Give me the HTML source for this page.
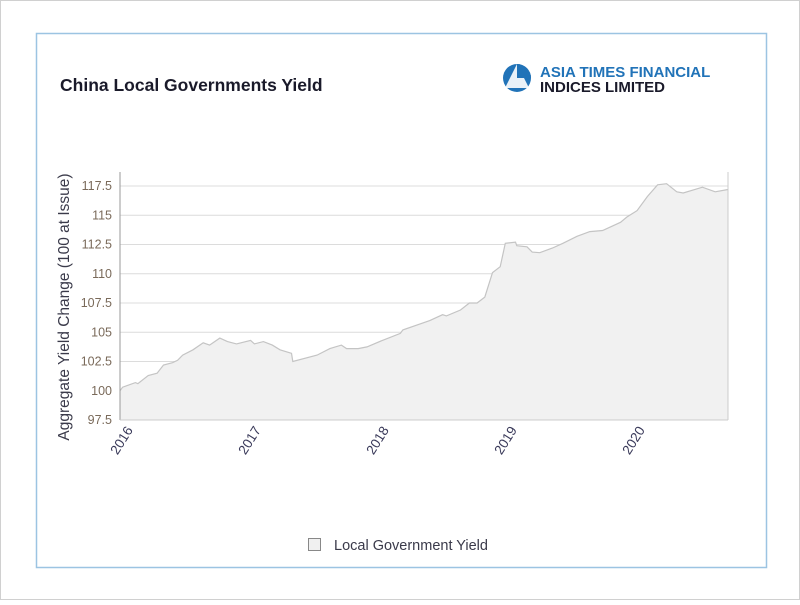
<!DOCTYPE html>
<html><head><meta charset="utf-8"><style>
body{margin:0;width:800px;height:600px;background:#fff;overflow:hidden;font-family:"Liberation Sans",sans-serif}
</style></head><body>
<svg width="800" height="600">
<rect x="0.5" y="0.5" width="799" height="599" fill="#fff" stroke="#d0d0d0"/>
<rect x="36.5" y="33.5" width="730" height="534" fill="#fff" stroke="#9cc4e2" stroke-width="1.5"/>
<text x="60" y="91" font-size="17.5" font-weight="bold" fill="#1a1a2a">China Local Governments Yield</text>
<g>
<circle cx="517" cy="78" r="14" fill="#2173b8"/>
<path d="M517 64 L505 88 L529 88 Z" fill="#fff" opacity="0.9"/>
<path d="M517 64 A14 14 0 0 1 531 78 L517 78 Z" fill="#2173b8"/>
<text x="540" y="77" font-size="15" font-weight="bold" fill="#2173b8">ASIA TIMES FINANCIAL</text>
<text x="540" y="92" font-size="15" font-weight="bold" fill="#1a1a2a">INDICES LIMITED</text>
</g>
<g id="plot"></g>
<text transform="translate(69,307) rotate(-90)" text-anchor="middle" font-size="15.5" fill="#3a3a4a">Aggregate Yield Change (100 at Issue)</text>
<rect x="308.5" y="538.5" width="12" height="12" fill="#f0f0f0" stroke="#888"/>
<text x="334" y="550" font-size="14.5" fill="#3a3a4a">Local Government Yield</text>
</svg>
<script>
const dates=[2015.95,2015.97,2016.07,2016.09,2016.10,2016.17,2016.24,2016.29,2016.36,2016.40,2016.44,2016.52,2016.60,2016.65,2016.73,2016.79,2016.86,2016.97,2017.00,2017.07,2017.14,2017.20,2017.29,2017.30,2017.49,2017.59,2017.68,2017.72,2017.81,2017.88,2018.00,2018.14,2018.16,2018.37,2018.47,2018.50,2018.61,2018.68,2018.74,2018.80,2018.86,2018.92,2018.96,2019.04,2019.05,2019.13,2019.17,2019.23,2019.33,2019.41,2019.52,2019.62,2019.72,2019.86,2019.91,2019.99,2020.07,2020.15,2020.22,2020.30,2020.35,2020.50,2020.60,2020.70];
const values=[100.0,100.3,100.7,100.6,100.7,101.3,101.5,102.2,102.4,102.6,103.05,103.5,104.1,103.9,104.5,104.2,104.0,104.3,104.0,104.2,103.9,103.5,103.2,102.5,103.05,103.6,103.9,103.6,103.6,103.75,104.3,104.9,105.2,106.0,106.5,106.4,106.9,107.5,107.5,108.0,110.1,110.6,112.6,112.7,112.4,112.3,111.85,111.8,112.2,112.6,113.2,113.6,113.7,114.4,114.85,115.4,116.6,117.6,117.7,117.0,116.9,117.4,117.0,117.2];
const yTicks=[97.5,100,102.5,105,107.5,110,112.5,115,117.5];
const yTickLabels=["97.5","100","102.5","105","107.5","110","112.5","115","117.5"];
const xTicks=[2016,2017,2018,2019,2020];
const xTickLabels=["2016","2017","2018","2019","2020"];
const NS="http://www.w3.org/2000/svg";
const L=120,R=728,T=172,B=420,t0=2015.95,t1=2020.70,v0=97.5,v1=117.5;
const yTop=186;
function sx(t){return L+(t-t0)/(t1-t0)*(R-L);}
function sy(v){return B-(v-v0)/(v1-v0)*(B-yTop);}
const g=document.getElementById('plot');
function mk(tag,attrs){const e=document.createElementNS(NS,tag);for(const k in attrs)e.setAttribute(k,attrs[k]);g.appendChild(e);return e;}
yTicks.forEach((v,i)=>{
  if(i>0){const ln=mk('line',{x1:L,x2:R,y1:sy(v),y2:sy(v),stroke:'#dcdcdc'});
  
  }
  const tx=mk('text',{x:L-8,y:sy(v)+4,'text-anchor':'end','font-size':12.5,fill:'#7a6a5a'});
  tx.textContent=yTickLabels[i];
  
  
});
let d='M'+sx(dates[0])+','+B;
dates.forEach((t,i)=>{d+=' L'+sx(t).toFixed(1)+','+sy(values[i]).toFixed(1);});
d+=' L'+sx(dates[dates.length-1])+','+B+' Z';
const area=mk('path',{d:d,fill:'#f1f1f1',stroke:'none'});


let dl='';
dates.forEach((t,i)=>{dl+=(i?' L':'M')+sx(t).toFixed(1)+','+sy(values[i]).toFixed(1);});
const line=mk('path',{d:dl,fill:'none',stroke:'#c4c4c4','stroke-width':1.2});


const ya=mk('line',{x1:L,x2:L,y1:T,y2:B,stroke:'#999'});


const xa=mk('line',{x1:L,x2:R,y1:B,y2:B,stroke:'#ccc'});


const rb=mk('line',{x1:R,x2:R,y1:T,y2:B,stroke:'#ccc'});


xTicks.forEach((t,i)=>{
  const x=sx(t)+7;
  const tx=mk('text',{transform:'translate('+x+','+(B+10)+') rotate(-58)','text-anchor':'end','font-size':13.5,fill:'#3a3a5a'});
  tx.textContent=xTickLabels[i];
  
  
});
</script>
</body></html>
